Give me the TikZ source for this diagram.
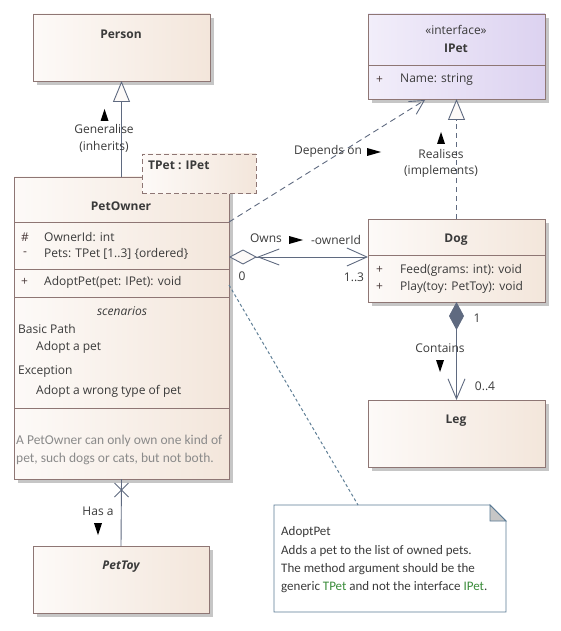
\documentclass[tikz,border=0pt]{standalone}
\usepackage{fontspec}
\setmainfont{Open Sans}
\newfontfamily\notefont{Carlito}
\usetikzlibrary{arrows.meta,calc}
\definecolor{clsborder}{HTML}{8E7674}
\definecolor{clsA}{HTML}{FDFAF8}
\definecolor{clsB}{HTML}{F3E6DB}
\definecolor{ifA}{HTML}{F2EEFA}
\definecolor{ifB}{HTML}{DCD2F0}
\definecolor{lnk}{HTML}{5F6A80}
\definecolor{txt}{HTML}{3A3A3A}
\definecolor{vis}{HTML}{4A3A3A}
\definecolor{shd}{HTML}{C6C6C6}
\definecolor{notebd}{HTML}{5A7A94}
\definecolor{notelnk}{HTML}{5F7F96}
\definecolor{grn}{HTML}{3A8C3A}
\definecolor{gtxt}{HTML}{8A8A8A}
\newcommand\mfs{\fontsize{12}{14}\selectfont}
\newcommand\nfs{\notefont\fontsize{13}{15}\selectfont}
\newcommand\umlbox[6]{%
  \fill[shd] (#2+4,#3+4) rectangle ++(#4,#5);
  \node[#6, minimum width=#4pt, minimum height=#5pt] (#1) at (#2,#3) {};}
\newcommand\triU[2]{\fill[black] (#1,#2-6) -- (#1-4,#2+6) -- (#1+4,#2+6) -- cycle;}
\newcommand\triD[2]{\fill[black] (#1,#2+6) -- (#1-4,#2-6) -- (#1+4,#2-6) -- cycle;}
\newcommand\triR[2]{\fill[black] (#1+7,#2) -- (#1-7,#2-4) -- (#1-7,#2+4) -- cycle;}
\tikzset{
  cls/.style={rectangle, draw=clsborder, line width=0.9pt, left color=clsA, right color=clsB, anchor=north west, inner sep=0pt, outer sep=0pt},
  ifc/.style={cls, left color=ifA, right color=ifB},
  divider/.style={draw=clsborder, line width=0.9pt},
  t/.style={text=txt, font=\mfs, inner sep=0pt},
  tl/.style={t, anchor=west},
  tb/.style={t, font=\mfs\bfseries},
  vs/.style={text=vis, font=\mfs, inner sep=0pt, anchor=west},
  lnkline/.style={draw=lnk, line width=0.9pt},
  gen/.style={-{Triangle[open, fill=clsA, length=21pt, width=17pt]}},
}
\begin{document}
\begin{tikzpicture}[x=1pt,y=-1pt]
\useasboundingbox (0,0) rectangle (560,631);
% classes
\umlbox{person}{33}{14}{177}{67}{cls}
\umlbox{ipet}{368}{14}{177}{85}{ifc}
\umlbox{petowner}{14}{177}{215}{302}{cls}
\umlbox{dog}{368}{219}{177}{83}{cls}
\umlbox{leg}{368}{400}{177}{67}{cls}
\umlbox{pettoy}{33}{546}{176}{67}{cls}
% template box
\node[cls, dashed, dash pattern=on 5pt off 3pt, minimum width=114pt, minimum height=39pt] (tpet) at (142,154) {};
% dividers
\draw[divider] (368,65) -- (545,65);
\draw[divider] (14,222) -- (229,222);
\draw[divider] (14,269) -- (229,269);
\draw[divider] (14,297) -- (229,297);
\draw[divider] (14,408) -- (229,408);
\draw[divider] (368,255) -- (545,255);
% class texts
\node[tb] at (121,34) {Person};
\node[t] at (456,30) {«interface»};
\node[tb] at (456,48) {IPet};
\node[vs] at (376,80) {+};
\node[tl] at (400,80) {Name: string};
\node[tb] at (148,165) [anchor=west] {TPet : IPet};
\node[tb] at (121,206) {PetOwner};
\node[vs] at (21,237) {\#};
\node[tl] at (44,237) {OwnerId: int};
\node[vs] at (23,254) {-};
\node[tl] at (44,254) {Pets: TPet [1..3] \{ordered\}};
\node[vs] at (21,282) {+};
\node[tl] at (44,282) {AdoptPet(pet: IPet): void};
\node[t, font=\mfs\itshape] at (122,311) {scenarios};
\node[tl] at (18,329) {Basic Path};
\node[tl] at (36,347) {Adopt a pet};
\node[tl] at (18,372) {Exception};
\node[tl] at (36,391) {Adopt a wrong type of pet};
\node[tl, text=gtxt, font=\notefont\fontsize{13.5}{15}\selectfont] at (16,441) {A PetOwner can only own one kind of};
\node[tl, text=gtxt, font=\notefont\fontsize{13.5}{15}\selectfont] at (16,459) {pet, such dogs or cats, but not both.};
\node[tb] at (456,240) {Dog};
\node[vs] at (376,270) {+};
\node[tl] at (400,270) {Feed(grams: int): void};
\node[vs] at (376,287) {+};
\node[tl] at (400,287) {Play(toy: PetToy): void};
\node[tb] at (456,421) {Leg};
\node[tb, font=\mfs\bfseries\itshape] at (121,567) {PetToy};
% note
\node[rectangle, anchor=north west, minimum width=232pt, minimum height=107pt, inner sep=0pt, outer sep=0pt] (note) at (274,505) {};
\draw[draw=notebd, fill=white, line width=0.9pt] (note.north west) -- ++(216,0) -- ++(16,16) -- (note.south east) -- (note.south west) -- cycle;
\draw[draw=notebd, fill=shd, line width=0.9pt] (490,505) -- (490,521) -- (506,521) -- cycle;
\begin{scope}[every node/.style={anchor=west, inner sep=0pt, text=txt, font=\nfs}]
\node at (281,532) {AdoptPet};
\node at (281,551) {Adds a pet to the list of owned pets.};
\node at (281,569) {The method argument should be the};
\node at (281,587) {generic \textcolor{grn}{TPet} and not the interface \textcolor{grn}{IPet}.};
\end{scope}
% connectors
\draw[lnkline, gen] (petowner.north) -- (person.south);
\draw[lnkline, gen, dashed, dash pattern=on 5pt off 4pt] (dog.north) -- (ipet.south);
\draw[lnkline, dashed, dash pattern=on 6pt off 4pt, -{Straight Barb[length=14pt, width=15pt]}] ($(petowner.north east)+(0,45)$) -- ($(ipet.south west)+(57,1)$);
\draw[lnkline, {Diamond[fill=clsA, length=28pt, width=15pt, sep=0pt] Straight Barb[length=21pt, width=16pt, sep=0pt]}-{Straight Barb[length=20pt, width=18pt]}] ($(petowner.north east)+(0,80)$) -- ($(dog.north west)+(0,38)$);
\draw[lnkline, {Diamond[fill=lnk, length=28pt, width=15pt]}-{Straight Barb[length=20pt, width=17pt]}] (dog.south) -- (leg.north);
\draw[lnkline] (petowner.south) -- (pettoy.north);
\draw[lnkline] ($(petowner.south)+(-7,4)$) -- ++(14,14);
\draw[lnkline] ($(petowner.south)+(7,4)$) -- ++(-14,14);
\draw[draw=notelnk, line width=1pt, dash pattern=on 3pt off 2.5pt] ($(petowner.north east)+(0,108)$) -- ($(note.north west)+(84,0)$);
% labels
\triU{104.5}{115}
\node[t] at (104,129) {Generalise};
\node[t] at (104,147) {(inherits)};
\triU{441}{138}
\node[t] at (441,154) {Realises};
\node[t] at (441,171) {(implements)};
\node[t] at (328,151) {Depends on};
\triR{374}{152}
\node[t] at (266,238) {Owns};
\triR{296}{240}
\node[t] at (336,240) {-ownerId};
\node[t] at (242,276) {0};
\node[t] at (354,277) {1..3};
\node[t] at (477,318) {1};
\node[t] at (440,348) {Contains};
\triD{440}{366}
\node[t] at (485,386) {0..4};
\node[t] at (98,511) {Has a};
\triD{98}{529}
\end{tikzpicture}
\end{document}
